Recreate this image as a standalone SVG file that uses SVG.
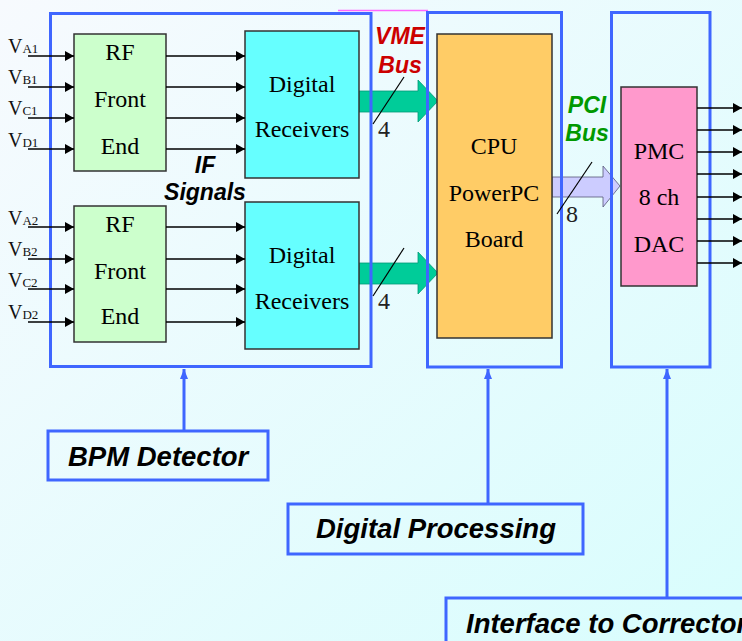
<svg xmlns="http://www.w3.org/2000/svg" width="742" height="641" viewBox="0 0 742 641">
<defs>
<linearGradient id="bg" x1="0" y1="0" x2="1" y2="1">
<stop offset="0" stop-color="#f7fafe"/>
<stop offset="1" stop-color="#d8fdfd"/>
</linearGradient>
<marker id="ah" markerWidth="10" markerHeight="10" refX="9" refY="5" orient="auto" markerUnits="userSpaceOnUse">
<path d="M0,0 L9,5 L0,10 Z" fill="#000"/>
</marker>
<marker id="bh" markerWidth="10" markerHeight="11" refX="10" refY="4" orient="auto" markerUnits="userSpaceOnUse">
<path d="M0,0 L10,4 L0,8 Z" fill="#3f66ff"/>
</marker>
<style>
.grp{fill:none;stroke:#3f66ff;stroke-width:3}
.lbl{fill:none;stroke:#3f66ff;stroke-width:3}
.blk{stroke:#333;stroke-width:1.5}
.ser{font-family:"Liberation Serif","Times New Roman",serif;font-size:24px;fill:#000;text-anchor:middle}
.v{font-family:"Liberation Serif","Times New Roman",serif;font-size:20px;fill:#111}
.v tspan{font-size:13px}
.bi{font-family:"Liberation Sans",Arial,sans-serif;font-weight:bold;font-style:italic}
.sig{stroke:#000;stroke-width:1.5;fill:none;marker-end:url(#ah)}
.conn{stroke:#3f66ff;stroke-width:3;fill:none;marker-end:url(#bh)}
.slash{stroke:#000;stroke-width:1.2}
.num{font-family:"Liberation Serif","Times New Roman",serif;font-size:24px;fill:#222}
</style>
</defs>
<rect width="742" height="641" fill="url(#bg)"/>
<line x1="338" y1="10.5" x2="428" y2="10.5" stroke="#ff66ff" stroke-width="1.5"/>

<g id="buses">
<polygon points="359,91 418,91 418,80 438,101 418,122 418,112 359,112" fill="#00cc99" stroke="#009977" stroke-width="0.8"/>
<polygon points="359,263 418,263 418,252 438,273 418,294 418,284 359,284" fill="#00cc99" stroke="#009977" stroke-width="0.8"/>
<polygon points="552,177 603,177 603,166 620,186 603,207 603,197 552,197" fill="#ccccff" stroke="#555577" stroke-width="0.8"/>
</g>

<g id="group-bpm"><rect class="grp" x="50.5" y="13.5" width="320.5" height="353"/></g>
<g id="group-proc"><rect class="grp" x="427.5" y="12.5" width="134" height="354.5"/></g>
<g id="group-iface"><rect class="grp" x="611.5" y="12.5" width="98.5" height="354.5"/></g>

<g id="rf1">
<rect class="blk" x="74" y="34" width="92" height="137" fill="#ccffcc"/>
<text class="ser" x="120" y="60">RF</text>
<text class="ser" x="120" y="107">Front</text>
<text class="ser" x="120" y="154">End</text>
</g>
<g id="rf2">
<rect class="blk" x="74" y="206" width="92" height="136" fill="#ccffcc"/>
<text class="ser" x="120" y="232">RF</text>
<text class="ser" x="120" y="279">Front</text>
<text class="ser" x="120" y="324">End</text>
</g>
<g id="dr1">
<rect class="blk" x="245" y="31" width="114" height="147" fill="#66ffff"/>
<text class="ser" x="302" y="92">Digital</text>
<text class="ser" x="302" y="137">Receivers</text>
</g>
<g id="dr2">
<rect class="blk" x="245" y="202" width="114" height="147" fill="#66ffff"/>
<text class="ser" x="302" y="263">Digital</text>
<text class="ser" x="302" y="309">Receivers</text>
</g>
<g id="cpu">
<rect class="blk" x="437" y="34" width="115" height="304" fill="#ffcc66"/>
<text class="ser" x="494" y="154">CPU</text>
<text class="ser" x="494" y="201">PowerPC</text>
<text class="ser" x="494" y="247">Board</text>
</g>
<g id="pmc">
<rect class="blk" x="621" y="87" width="76" height="199" fill="#ff99cc"/>
<text class="ser" x="659" y="159">PMC</text>
<text class="ser" x="659" y="205">8 ch</text>
<text class="ser" x="659" y="252">DAC</text>
</g>

<g id="inputs">
<text class="v" x="8" y="53">V<tspan>A1</tspan></text>
<text class="v" x="8" y="84">V<tspan>B1</tspan></text>
<text class="v" x="8" y="115">V<tspan>C1</tspan></text>
<text class="v" x="8" y="147">V<tspan>D1</tspan></text>
<text class="v" x="8" y="225">V<tspan>A2</tspan></text>
<text class="v" x="8" y="256">V<tspan>B2</tspan></text>
<text class="v" x="8" y="287">V<tspan>C2</tspan></text>
<text class="v" x="8" y="319">V<tspan>D2</tspan></text>
</g>

<g id="connectors">
<line class="sig" x1="28" y1="56" x2="74" y2="56"/>
<line class="sig" x1="28" y1="87" x2="74" y2="87"/>
<line class="sig" x1="28" y1="118" x2="74" y2="118"/>
<line class="sig" x1="28" y1="149" x2="74" y2="149"/>
<line class="sig" x1="28" y1="227" x2="74" y2="227"/>
<line class="sig" x1="28" y1="259" x2="74" y2="259"/>
<line class="sig" x1="28" y1="289" x2="74" y2="289"/>
<line class="sig" x1="28" y1="322" x2="74" y2="322"/>
<line class="sig" x1="166" y1="56" x2="245" y2="56"/>
<line class="sig" x1="166" y1="87" x2="245" y2="87"/>
<line class="sig" x1="166" y1="118" x2="245" y2="118"/>
<line class="sig" x1="166" y1="149" x2="245" y2="149"/>
<line class="sig" x1="166" y1="227" x2="245" y2="227"/>
<line class="sig" x1="166" y1="259" x2="245" y2="259"/>
<line class="sig" x1="166" y1="289" x2="245" y2="289"/>
<line class="sig" x1="166" y1="322" x2="245" y2="322"/>
<line class="sig" x1="697" y1="108" x2="742" y2="108"/>
<line class="sig" x1="697" y1="130" x2="742" y2="130"/>
<line class="sig" x1="697" y1="152" x2="742" y2="152"/>
<line class="sig" x1="697" y1="174" x2="742" y2="174"/>
<line class="sig" x1="697" y1="197" x2="742" y2="197"/>
<line class="sig" x1="697" y1="219" x2="742" y2="219"/>
<line class="sig" x1="697" y1="241" x2="742" y2="241"/>
<line class="sig" x1="697" y1="263" x2="742" y2="263"/>
<line class="conn" x1="184" y1="431" x2="184" y2="369"/>
<line class="conn" x1="488" y1="504" x2="488" y2="369"/>
<line class="conn" x1="667" y1="598" x2="667" y2="369"/>
</g>

<g id="bus-labels">
<line class="slash" x1="373" y1="124" x2="404" y2="77"/>
<line class="slash" x1="373" y1="296" x2="404" y2="248"/>
<line class="slash" x1="557" y1="214" x2="592" y2="162"/>
<text class="num" x="378" y="137">4</text>
<text class="num" x="378" y="309">4</text>
<text class="num" x="566" y="222">8</text>
<text class="bi" x="400" y="44" font-size="23" fill="#cc0000" text-anchor="middle">VME</text>
<text class="bi" x="400" y="73" font-size="23" fill="#cc0000" text-anchor="middle">Bus</text>
<text class="bi" x="587" y="113" font-size="23" fill="#009900" text-anchor="middle">PCI</text>
<text class="bi" x="587" y="141" font-size="23" fill="#009900" text-anchor="middle">Bus</text>
<text class="bi" x="205" y="173" font-size="23" fill="#000" text-anchor="middle">IF</text>
<text class="bi" x="205" y="200" font-size="23" fill="#000" text-anchor="middle">Signals</text>
</g>

<g id="label-bpm">
<rect class="lbl" x="48" y="431" width="220" height="49"/>
<text class="bi" x="68" y="466" font-size="27.5" fill="#000">BPM Detector</text>
</g>
<g id="label-proc">
<rect class="lbl" x="288" y="504" width="295" height="50"/>
<text class="bi" x="316" y="538" font-size="27.5" fill="#000">Digital Processing</text>
</g>
<g id="label-iface">
<rect class="lbl" x="446" y="598" width="310" height="60"/>
<text class="bi" x="466" y="633" font-size="27.5" fill="#000">Interface to Corrector</text>
</g>
</svg>
